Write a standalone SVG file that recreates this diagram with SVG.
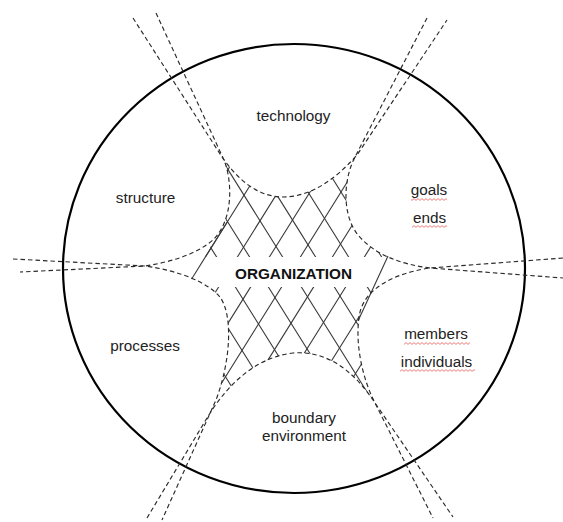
<svg xmlns="http://www.w3.org/2000/svg" width="563" height="522" viewBox="0 0 563 522">
<defs>
<style>
.lbl{font-family:"Liberation Sans",Arial,sans-serif;font-size:15.3px;fill:#222;text-anchor:middle}
.bold{font-weight:bold;fill:#111}
.dash{fill:none;stroke:#2a2a2a;stroke-width:1.15;stroke-dasharray:4.5 3}
.hatch line,.chord{stroke:#383838;stroke-width:1.1}
.ring{fill:none;stroke:#000;stroke-width:2.2}
.squig{fill:url(#wave)}
</style>
<pattern id="wave" patternUnits="userSpaceOnUse" width="4" height="3"><path d="M0,2.4 L2,0.6 L4,2.4" fill="none" stroke="#e8706a" stroke-width="0.9"/></pattern>
<clipPath id="core"><path d="M222,157 C238,180 258,197 283,197 C310,197 335,180 357,155 C343,180 342,215 358,235 C375,255 400,264 430,268 C395,273 366,288 360,312 C354,340 362,378 375,403 L373,400 C356,375 330,350 293,353 C250,358 222,393 207,418 L216,400 C231,360 233,315 220,297 C207,282 180,271 145,266 C170,262 196,255 214,239 C234,218 232,180 224,160 Z"/></clipPath>
<mask id="gaps" maskUnits="userSpaceOnUse" x="0" y="0" width="563" height="522">
<rect width="563" height="522" fill="#fff"/>
<rect x="0" y="257" width="563" height="30" fill="#000"/>
<polygon points="0,221 226.5,221 190.5,279 190.5,300 0,300" fill="#000"/>
<polygon points="391,250 600,250 600,325 357.5,325" fill="#000"/>
</mask>
</defs>
<rect width="563" height="522" fill="#fff"/>

<g id="ring"><ellipse class="ring" cx="294" cy="268.5" rx="231" ry="224.5"/></g>

<g id="organization">
<g clip-path="url(#core)"><g class="hatch" mask="url(#gaps)">
<line x1="246.5" y1="140" x2="65.25" y2="430"/>
<line x1="278.5" y1="140" x2="97.25" y2="430"/>
<line x1="310.5" y1="140" x2="129.25" y2="430"/>
<line x1="342.5" y1="140" x2="161.25" y2="430"/>
<line x1="373.5" y1="140" x2="192.25" y2="430"/>
<line x1="405.5" y1="140" x2="224.25" y2="430"/>
<line x1="437.5" y1="140" x2="256.25" y2="430"/>
<line x1="469.5" y1="140" x2="288.25" y2="430"/>
<line x1="501.5" y1="140" x2="320.25" y2="430"/>
<line x1="533.5" y1="140" x2="352.25" y2="430"/>
<line x1="565.5" y1="140" x2="384.25" y2="430"/>
<line x1="11.5" y1="140" x2="192.75" y2="430"/>
<line x1="44.5" y1="140" x2="225.75" y2="430"/>
<line x1="77.5" y1="140" x2="258.75" y2="430"/>
<line x1="110.5" y1="140" x2="291.75" y2="430"/>
<line x1="143.5" y1="140" x2="324.75" y2="430"/>
<line x1="176.5" y1="140" x2="357.75" y2="430"/>
<line x1="209.5" y1="140" x2="390.75" y2="430"/>
<line x1="242.5" y1="140" x2="423.75" y2="430"/>
<line x1="275.5" y1="140" x2="456.75" y2="430"/>
<line x1="308.5" y1="140" x2="489.75" y2="430"/>
<line x1="341.5" y1="140" x2="522.75" y2="430"/>
</g></g>
<line class="chord" x1="227.25" y1="222" x2="191.6" y2="279"/>
<line class="chord" x1="388" y1="256" x2="358" y2="321"/>
<text class="lbl bold" x="293.5" y="278.5">ORGANIZATION</text>
</g>

<g id="structure">
<path class="dash" d="M156,13 L224,160 C232,180 234,218 214,239 C196,255 170,262 145,266 L20,272"/>
<text class="lbl" x="145.5" y="202.5">structure</text>
</g>

<g id="technology">
<path class="dash" d="M133,18 L222,157 C238,180 258,197 283,197 C310,197 335,180 357,155 L447,20"/>
<text class="lbl" x="293.5" y="120.5">technology</text>
</g>

<g id="goals">
<path class="dash" d="M427,18 L355,157 C343,180 342,215 358,235 C375,255 400,264 430,268 L563,278"/>
<text class="lbl" x="429" y="195">goals</text>
<rect class="squig" x="411" y="198" width="36" height="3"/>
<text class="lbl" x="429.5" y="223">ends</text>
<rect class="squig" x="412" y="225" width="35" height="3"/>
</g>

<g id="members">
<path class="dash" d="M563,258 L430,268 C395,273 366,288 360,312 C354,340 362,378 375,403 L433,518"/>
<text class="lbl" x="436" y="339">members</text>
<rect class="squig" x="404" y="342" width="66" height="3"/>
<text class="lbl" x="436.5" y="366.5">individuals</text>
<rect class="squig" x="400" y="369" width="75" height="3"/>
</g>

<g id="boundary">
<path class="dash" d="M147,518 L207,418 C222,393 250,358 293,353 C330,350 356,375 373,400 L453,517"/>
<text class="lbl" x="304" y="423">boundary</text>
<text class="lbl" x="304" y="441">environment</text>
</g>

<g id="processes">
<path class="dash" d="M13,259 L145,266 C180,271 207,282 220,297 C233,315 231,360 216,400 L162,520"/>
<text class="lbl" x="145" y="351">processes</text>
</g>
</svg>
